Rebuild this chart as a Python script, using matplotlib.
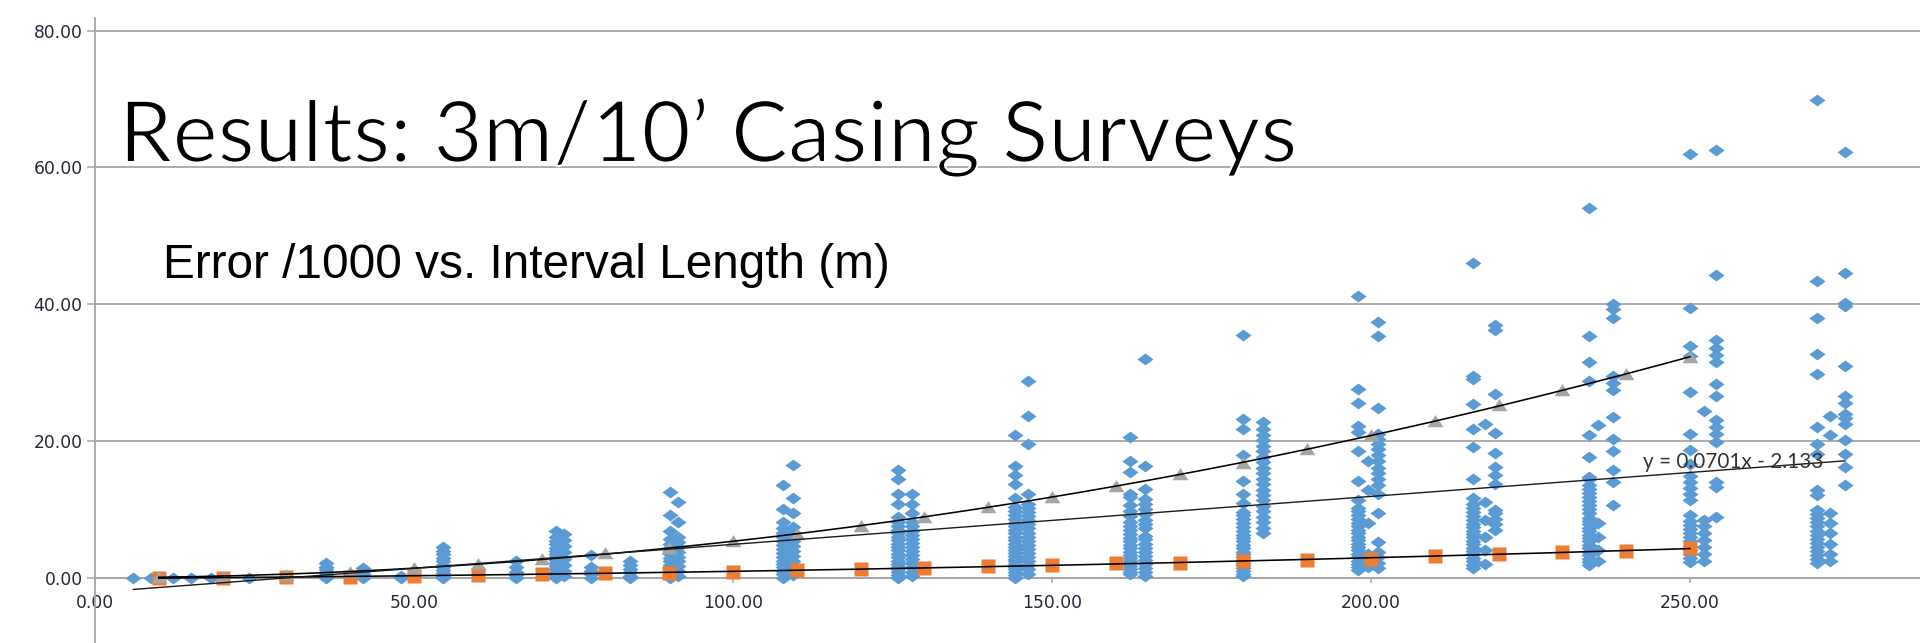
import numpy as np
import matplotlib
matplotlib.use("Agg")
import matplotlib.pyplot as plt
import matplotlib.patheffects as pe
from matplotlib.path import Path

# ---------------------------------------------------------------- data
# Blue series: error /1000 for each survey interval, grouped by interval length (m)
c006 = [0.0]
c009 = [0.0]
c012 = [0.0]
c015 = [0.0]
c018 = [0.0]
c024 = [0.0]
c036 = [0.0, 0.4, 0.8, 1.2, 1.6, 2.2]
c042 = [0.0, 0.5, 1.0, 1.4]
c048 = [0.0, 0.3]
c054 = [0.0, 0.3, 0.7, 1.1, 1.5, 1.9, 2.4, 2.9, 3.4, 3.9, 4.5]
c066 = [0.0, 0.4, 0.9, 1.5, 2.5]
c072 = [0.0, 0.4, 0.8, 1.2, 1.7, 2.1, 2.6, 3.0, 3.5, 3.9, 4.4, 4.9, 5.4, 6.0, 6.9]
c073 = [0.2, 1.0, 1.9, 2.8, 3.7, 4.6, 5.5, 6.4]
c078 = [0.0, 0.5, 1.0, 1.5, 3.3]
c084 = [0.0, 0.3, 0.8, 1.3, 1.8, 2.4]
c090 = [0.0, 0.4, 0.9, 1.4, 1.9, 2.4, 2.9, 3.4, 3.9, 4.4, 5.0, 5.6, 6.9, 9.1, 12.5]
c091 = [0.3, 1.0, 1.7, 2.4, 3.1, 3.8, 4.5, 5.2, 5.9, 8.2, 11.1]
c108 = [0.0, 0.5, 1.0, 1.5, 2.0, 2.5, 3.0, 3.6, 4.2, 4.8, 5.4, 6.0, 6.6, 7.2,
        8.2, 10.1, 13.6]
c109 = [0.4, 1.1, 1.8, 2.5, 3.2, 3.9, 4.6, 5.3, 6.0, 6.7, 7.4, 9.4, 11.7, 16.5]
c126 = [0.0, 0.4, 0.8, 1.2, 1.6, 2.0, 2.5, 3.0, 3.5, 4.0, 4.5, 5.0, 5.5, 6.0,
        6.5, 7.0, 7.6, 8.2, 8.9, 10.8, 12.3, 14.5, 15.8]
c128 = [0.3, 0.9, 1.5, 2.1, 2.7, 3.3, 3.9, 4.5, 5.1, 5.7, 6.3, 6.9, 7.5, 8.1,
        9.4, 10.8, 12.3]
c144 = [0.0, 0.4, 0.8, 1.2, 1.6, 2.0, 2.4, 2.8, 3.2, 3.6, 4.0, 4.5, 5.0, 5.5,
        6.0, 6.5, 7.0, 7.5, 8.0, 8.6, 9.2, 9.8, 10.4, 11.6, 13.75, 15.0, 16.3,
        20.9]
c146 = [0.6, 1.2, 1.8, 2.4, 3.0, 3.6, 4.2, 4.8, 5.4, 6.0, 6.6, 7.2, 7.8, 8.4,
        9.0, 9.6, 10.2, 10.8, 12.3, 19.6, 23.6, 28.8]
c162 = [0.5, 0.9, 1.3, 1.7, 2.1, 2.5, 2.9, 3.3, 3.8, 4.3, 4.8, 5.3, 5.8, 6.4,
        7.0, 7.6, 8.2, 9.0, 9.8, 10.6, 11.8, 12.3, 15.4, 17.0, 20.6]
c164 = [0.2, 0.8, 1.4, 2.0, 2.6, 3.2, 3.8, 4.4, 5.0, 5.6, 6.1, 7.3, 7.9, 8.5,
        9.3, 10.1, 10.8, 11.5, 13.0, 16.4, 32.0]
c180 = [0.2, 0.6, 1.0, 1.4, 1.8, 2.2, 2.6, 3.0, 3.4, 3.8, 4.3, 4.8, 5.3, 5.8,
        6.3, 6.8, 7.4, 8.0, 8.6, 9.2, 9.6, 10.9, 12.3, 14.1, 17.9, 21.8, 23.2,
        35.5]
c183 = [6.5, 7.3, 8.1, 8.9, 9.7, 10.5, 11.3, 12.1, 12.9, 13.7, 14.5, 15.3,
        16.1, 16.9, 17.7, 18.5, 19.3, 20.1, 20.9, 21.7, 22.7]
c198 = [1.1, 1.5, 2.0, 2.5, 3.0, 3.5, 4.0, 4.5, 5.0, 5.5, 6.0, 6.5, 7.0, 7.5,
        8.0, 8.6, 9.2, 9.8, 10.2, 11.3, 14.2, 18.6, 21.3, 22.2, 25.6, 27.6, 41.2]
c200 = [1.5, 2.4, 3.5, 8.0, 12.8, 17.1]
c201 = [1.4, 2.2, 3.0, 3.8, 5.2, 9.4, 12.3, 13.5, 14.5, 15.3, 16.1, 17.1,
        18.0, 18.8, 19.6, 20.3, 21.0, 24.8, 35.35, 37.4]
c216 = [1.4, 1.9, 2.4, 2.9, 3.4, 3.9, 4.4, 4.9, 5.4, 5.9, 6.4, 6.9, 7.4, 7.9,
        8.4, 9.0, 9.6, 10.2, 10.8, 11.6, 14.5, 19.1, 21.8, 25.4, 29.0, 29.5,
        46.1]
c218 = [2.0, 4.0, 6.0, 8.5, 11.0, 22.5]
c219 = [7.0, 7.8, 8.6, 9.4, 9.9, 13.75, 15.0, 16.2, 18.2, 21.1, 26.8, 36.3,
        37.0]
c234 = [1.8, 2.3, 2.8, 3.3, 3.8, 4.3, 4.8, 5.3, 5.8, 6.3, 6.8, 7.3, 7.8, 8.3,
        8.8, 9.4, 10.0, 10.6, 11.2, 11.8, 12.4, 13.0, 13.6, 14.4, 14.7, 17.6,
        20.8, 28.8, 31.6, 35.35, 54.1]
c236 = [2.5, 4.0, 6.0, 8.0, 22.4]
c238 = [10.7, 14.0, 15.7, 18.6, 20.3, 23.5, 27.4, 28.5, 29.5, 38.0, 39.3, 40.1]
c250 = [2.3, 2.9, 3.5, 4.1, 4.7, 5.3, 5.9, 6.5, 7.1, 7.7, 8.3, 9.1, 11.3,
        12.2, 13.1, 14.0, 14.9, 16.7, 18.7, 21.0, 27.1, 32.4, 33.9, 39.5, 62.0]
c252 = [2.5, 3.5, 4.5, 5.5, 6.5, 7.5, 8.5, 24.4]
c254 = [8.9, 13.3, 14.0, 19.8, 21.0, 22.0, 23.0, 26.6, 28.3, 31.6, 32.6, 33.6,
        34.7, 44.2, 62.5]
c270 = [2.1, 2.7, 3.3, 3.9, 4.5, 5.1, 5.7, 6.3, 6.9, 7.5, 8.1, 8.7, 9.3, 9.9,
        12.1, 12.8, 18.1, 19.6, 22.0, 29.8, 32.7, 38.0, 43.4, 69.8]
c272 = [2.4, 3.5, 5.0, 6.5, 8.0, 9.5, 20.8, 23.7]
c274 = [13.5, 16.2, 18.1, 20.1, 22.5, 23.3, 24.0, 25.6, 26.6, 31.0, 39.7, 40.2,
        44.6, 62.2]

interval_lengths = [6.0, 8.8, 12.2, 15.0, 18.2, 24.2, 36.2, 42.0, 48.0, 54.5,
                    66.0, 72.3, 73.5, 77.8, 83.9, 90.1, 91.4, 107.9, 109.4,
                    125.9, 128.0, 144.2, 146.3, 162.2, 164.6, 180.0, 183.1,
                    197.9, 199.6, 201.1, 216.0, 217.8, 219.4, 234.1, 235.6,
                    237.9, 250.0, 252.2, 254.0, 269.9, 272.0, 274.3]
interval_errors = [c006, c009, c012, c015, c018, c024, c036, c042, c048, c054,
                   c066, c072, c073, c078, c084, c090, c091, c108, c109,
                   c126, c128, c144, c146, c162, c164, c180, c183,
                   c198, c200, c201, c216, c218, c219, c234, c236,
                   c238, c250, c252, c254, c270, c272, c274]

# Orange and grey series, sampled every 10 m
step_lengths = [10, 20, 30, 40, 50, 60, 70, 80, 90, 100, 110, 120, 130, 140,
                150, 160, 170, 180, 190, 200, 210, 220, 230, 240, 250]
orange_values = [0.0, 0.0, 0.05, 0.15, 0.3, 0.4, 0.5, 0.7, 0.7, 0.9, 1.1, 1.3,
                 1.45, 1.7, 1.85, 2.1, 2.2, 2.4, 2.6, 2.8, 3.15, 3.4, 3.8,
                 3.95, 4.3]
grey_values = [0.15, 0.15, 0.4, 0.9, 1.45, 2.0, 2.8, 3.55, 4.3, 5.4, 6.35, 7.5,
               8.9, 10.3, 11.8, 13.4, 15.1, 16.8, 18.8, 20.8, 22.9, 25.2, 27.4,
               29.8, 32.3]

# Linear trendline of the blue series, as printed on the chart
trend_slope = 0.0701
trend_intercept = -2.133

y_ticks = [0, 20, 40, 60, 80]
x_ticks = [0, 50, 100, 150, 200, 250]

title_text = "Results: 3m/10\u2019 Casing Surveys"
subtitle_text = "Error /1000 vs. Interval Length (m)"
equation_text = "y = 0.0701x - 2.133"

# ---------------------------------------------------------------- figure
W, H = 1920, 643
fig = plt.figure(figsize=(W / 100, H / 100), dpi=100)
fig.patch.set_facecolor("white")

ax_left_px, ax_top_px = 95, 18
ax = fig.add_axes([ax_left_px / W, 0.0, 1 - ax_left_px / W, 1 - ax_top_px / H])
ax.set_xlim(0, 286.05)
ax.set_ylim(-9.55, 81.86)

blue = "#5B9BD5"
orange = "#ED7D31"
grey = "#A5A5A5"
axis_grey = "#A6A6A6"

diamond = Path([(-1, 0), (0, 0.74), (1, 0), (0, -0.74), (-1, 0)],
               [Path.MOVETO, Path.LINETO, Path.LINETO, Path.LINETO, Path.CLOSEPOLY])
square = Path([(-1, -0.92), (1, -0.92), (1, 0.92), (-1, 0.92), (-1, -0.92)],
              [Path.MOVETO, Path.LINETO, Path.LINETO, Path.LINETO, Path.CLOSEPOLY])
triangle = Path([(-1, -0.72), (1, -0.72), (0, 0.8), (-1, -0.72)],
                [Path.MOVETO, Path.LINETO, Path.LINETO, Path.CLOSEPOLY])

bx = np.concatenate([[x] * len(v) for x, v in zip(interval_lengths, interval_errors)])
by = np.concatenate([np.asarray(v, float) for v in interval_errors])

ax.plot(bx, by, linestyle="none", marker=diamond, ms=11.6,
        mfc=blue, mec="none", zorder=3, clip_on=False)
ax.plot(step_lengths, orange_values, linestyle="none", marker=square, ms=10.4,
        mfc=orange, mec="none", zorder=4)
ax.plot(step_lengths, grey_values, linestyle="none", marker=triangle, ms=11.5,
        mfc=grey, mec="none", zorder=4)

# Trendlines
xs = np.linspace(min(step_lengths), max(step_lengths), 200)
g_fit = np.polyfit(step_lengths, grey_values, 2)
o_fit = np.polyfit(step_lengths, orange_values, 2)
ax.plot(xs, np.polyval(g_fit, xs), color="black", lw=1.15, zorder=5)
ax.plot(xs, np.polyval(o_fit, xs), color="black", lw=1.15, zorder=5)
xl = np.array([bx.min(), bx.max()])
ax.plot(xl, trend_slope * xl + trend_intercept, color="#1a1a1a", lw=1.0, zorder=5)

eq = ax.text(242.6, 16.0, equation_text, color="#333333", fontsize=13,
             family=["Lato", "DejaVu Sans"], va="baseline", ha="left", zorder=6)

# Axes styling
for side in ("top", "right"):
    ax.spines[side].set_visible(False)
ax.spines["left"].set_color(axis_grey)
ax.spines["left"].set_linewidth(1.3)
ax.spines["bottom"].set_position(("data", 0))
ax.spines["bottom"].set_color(axis_grey)
ax.spines["bottom"].set_linewidth(1.3)
ax.set_axisbelow(True)
ax.yaxis.grid(True, color=axis_grey, lw=1.3)
ax.xaxis.grid(False)

ax.set_yticks(y_ticks)
ax.set_yticklabels([f"{v:.2f}" for v in y_ticks])
ax.set_xticks(x_ticks)
ax.set_xticklabels([f"{v:.2f}" for v in x_ticks])
tick_color = "#262638"
ax.tick_params(axis="y", direction="out", length=6, width=1.1, color=axis_grey,
               pad=3, labelsize=12.3, labelcolor=tick_color)
ax.tick_params(axis="x", direction="out", length=3.5, width=1.1, color=axis_grey,
               pad=8.5, labelsize=12.3, labelcolor=tick_color)
for lab in ax.get_xticklabels() + ax.get_yticklabels():
    lab.set_family("DejaVu Sans")

# Slide titles over the plot; a thin white edge lightens the heading strokes
title = fig.text(119 / W, 1 - 162 / H, title_text, fontsize=64,
                 family=["Lato", "DejaVu Sans"], fontweight="normal",
                 color="black", va="baseline", ha="left", zorder=10)
title.set_path_effects([pe.Stroke(linewidth=1.5, foreground="white")])
subtitle = fig.text(163 / W, 1 - 278 / H, subtitle_text, fontsize=40,
                    family=["Liberation Sans Narrow", "Liberation Sans"],
                    color="black", va="baseline", ha="left", zorder=10)

renderer = fig.canvas.get_renderer()
for txt, target in ((title, 1178), (subtitle, 727), (eq, 180)):
    w = txt.get_window_extent(renderer).width
    txt.set_fontsize(txt.get_fontsize() * target / w)

fig.savefig("out.png", dpi=100, facecolor="white")
